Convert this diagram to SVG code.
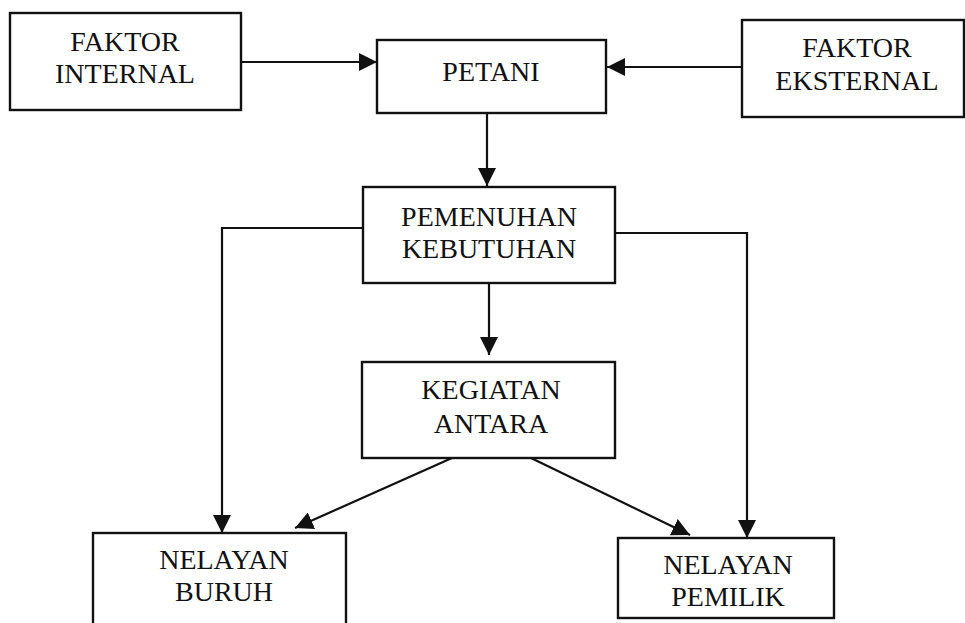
<svg xmlns="http://www.w3.org/2000/svg" width="965" height="623" viewBox="0 0 965 623">
<style>
.box{fill:#fff;stroke:#111;stroke-width:2.4}
.lbl{font-family:"Liberation Serif","DejaVu Serif",serif;font-size:28px;fill:#111;text-anchor:middle}
.con{fill:none;stroke:#111;stroke-width:2.2;marker-end:url(#ah)}
</style>
<defs>
<marker id="ah" markerWidth="18" markerHeight="18" refX="18" refY="9" orient="auto" markerUnits="userSpaceOnUse">
<path d="M0,0 L18,9 L0,18 Z" fill="#111"/>
</marker>
</defs>
<rect width="965" height="623" fill="#fff"/>
<g id="connectors">
<line class="con" x1="241" y1="62" x2="377" y2="62"/>
<line class="con" x1="742" y1="67" x2="607" y2="67"/>
<line class="con" x1="487" y1="113" x2="487" y2="186"/>
<polyline class="con" points="363,228 222,228 222,533"/>
<polyline class="con" points="615,233 747,233 747,538"/>
<line class="con" x1="489" y1="283" x2="489" y2="355"/>
<line class="con" x1="452" y1="458" x2="295" y2="528"/>
<line class="con" x1="531" y1="458" x2="690" y2="535"/>
</g>
<g id="faktor-internal">
<rect class="box" x="10" y="13" width="231" height="97"/>
<text class="lbl" x="125" y="51">FAKTOR</text>
<text class="lbl" x="125" y="83">INTERNAL</text>
</g>
<g id="petani">
<rect class="box" x="377" y="40" width="229" height="73"/>
<text class="lbl" x="491" y="81">PETANI</text>
</g>
<g id="faktor-eksternal">
<rect class="box" x="742" y="20" width="222" height="97"/>
<text class="lbl" x="857" y="57">FAKTOR</text>
<text class="lbl" x="857" y="90">EKSTERNAL</text>
</g>
<g id="pemenuhan-kebutuhan">
<rect class="box" x="363" y="187" width="252" height="96"/>
<text class="lbl" x="489" y="226">PEMENUHAN</text>
<text class="lbl" x="489" y="258">KEBUTUHAN</text>
</g>
<g id="kegiatan-antara">
<rect class="box" x="362" y="362" width="253" height="96"/>
<text class="lbl" x="491" y="399">KEGIATAN</text>
<text class="lbl" x="491" y="433">ANTARA</text>
</g>
<g id="nelayan-buruh">
<rect class="box" x="93" y="533" width="253" height="92"/>
<text class="lbl" x="224" y="569">NELAYAN</text>
<text class="lbl" x="224" y="601">BURUH</text>
</g>
<g id="nelayan-pemilik">
<rect class="box" x="618" y="538" width="216" height="80"/>
<text class="lbl" x="728" y="574">NELAYAN</text>
<text class="lbl" x="728" y="606">PEMILIK</text>
</g>
</svg>
